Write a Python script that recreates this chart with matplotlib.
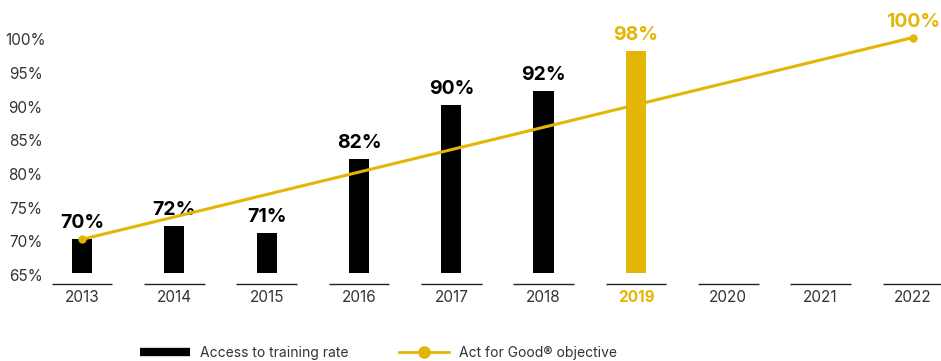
import matplotlib
matplotlib.use("Agg")
import matplotlib.pyplot as plt
from matplotlib.lines import Line2D
import matplotlib.transforms as mtransforms
import numpy as np

plt.rcParams['font.family'] = ['Inter', 'DejaVu Sans']

# Data
years = ["2013", "2014", "2015", "2016", "2017", "2018", "2019", "2020", "2021", "2022"]
access_rate = [70, 72, 71, 82, 90, 92, 98]          # 2013-2019
objective_years = ["2013", "2022"]
objective_values = [70, 100]
highlight_year = "2019"
y_ticks = [65, 70, 75, 80, 85, 90, 95, 100]
base = 65

GOLD = "#E3B505"
BLACK = "#000000"
GREY = "#333333"

W, H = 941, 361
fig = plt.figure(figsize=(W / 100, H / 100), dpi=100)

# axes placement (pixels -> figure fraction)
px_per_unit_x = 92.33
x0_px = 82
ax_left_px = 48
xlim = ((ax_left_px - x0_px) / px_per_unit_x, (940.7 - x0_px) / px_per_unit_x)
ylim = (58, 104)
ax = fig.add_axes([ax_left_px / W, 0.1133, (940.7 - ax_left_px) / W, 0.8573])
ax.set_xlim(*xlim)
ax.set_ylim(*ylim)

x = np.arange(len(years))
bar_x = x[:len(access_rate)]
bar_colors = [GOLD if years[i] == highlight_year else BLACK for i in bar_x]
heights = [v - base for v in access_rate]
ax.bar(bar_x, heights, bottom=base, width=0.22, color=bar_colors, zorder=2)

# value labels on bars
for xi, v, c in zip(bar_x, access_rate, bar_colors):
    ax.annotate(f"{v}%", (xi, v), xytext=(0, 5), textcoords="offset points",
                ha="center", va="bottom", fontsize=14, fontweight="bold", color=c)

# objective line
ox = [years.index(y) for y in objective_years]
ax.plot(ox, objective_values, color=GOLD, lw=2.2, marker="o", ms=5,
        zorder=3, solid_capstyle="round")
ax.annotate(f"{objective_values[-1]}%", (ox[-1], objective_values[-1]),
            xytext=(0, 5), textcoords="offset points", ha="center", va="bottom",
            fontsize=14, fontweight="bold", color=GOLD)

# category underlines and year labels
y_line = base - 11 / 6.73
y_lab = base - 25 / 6.73
ax.hlines([y_line] * len(x), x - 0.33, x + 0.33, color="#222222", lw=1.0)
for xi, yr in zip(x, years):
    hl = yr == highlight_year
    ax.text(xi, y_lab, yr, ha="center", va="center", fontsize=11,
            color=GOLD if hl else GREY, fontweight="bold" if hl else "normal")

# y axis labels, centred in the left margin
label_trans = mtransforms.blended_transform_factory(fig.transFigure, ax.transData)
label_trans = label_trans + mtransforms.ScaledTranslation(0, -2.5 / 72, fig.dpi_scale_trans)
for t in y_ticks:
    ax.text(25.5 / W, t, f"{t}%", transform=label_trans, ha="center", va="center",
            fontsize=11, color=GREY, clip_on=False)
ax.set_yticks([])
ax.set_xticks([])
for s in ax.spines.values():
    s.set_visible(False)

# legend
handles = [
    Line2D([0], [0], color=BLACK, lw=6, solid_capstyle="butt"),
    Line2D([0], [0], color=GOLD, lw=2, marker="o", ms=8),
]
leg = fig.legend(handles, ["Access to training rate", "Act for Good® objective"],
                 loc="center left", bbox_to_anchor=(140 / W, 1 - 353 / H),
                 ncol=2, frameon=False, fontsize=10, handlelength=3.6,
                 handletextpad=0.75, columnspacing=3.6, borderpad=0,
                 borderaxespad=0)
for t in leg.get_texts():
    t.set_color(GREY)

fig.savefig("out.png", dpi=100)
